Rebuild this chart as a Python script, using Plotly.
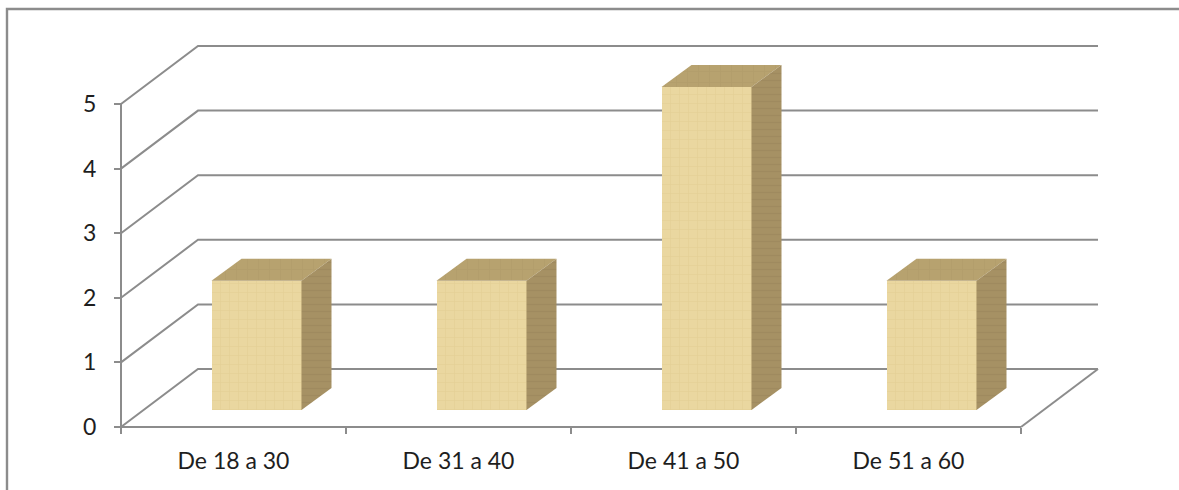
import plotly.graph_objects as go

WIDTH, HEIGHT = 1179, 490

categories = ["De 18 a 30", "De 31 a 40", "De 41 a 50", "De 51 a 60"]
values = [2, 2, 5, 2]
value_ticks = [0, 1, 2, 3, 4, 5]

# Pixel geometry of the oblique projection
X0_PX, Y0_PX = 121.0, 427.0
CAT_PX, UNIT_PX = 225.0, 64.6
FLOOR_DX, FLOOR_DY = 77.0, 58.0
BAR_DX, BAR_DY = 30.0, 22.0
BAR_W_PX = 90.0
BAR_SHIFT_DX, BAR_FLOOR_DY = 23.0, 17.0

GRID = "#8c8c8c"
FRONT, TOP, SIDE = "#ead7a0", "#b7a26f", "#a69164"

# Depth offsets expressed in data units
fdx, fdy = FLOOR_DX / CAT_PX, FLOOR_DY / UNIT_PX
bdx, bdy = BAR_DX / CAT_PX, BAR_DY / UNIT_PX
bar_w = BAR_W_PX / CAT_PX
base = BAR_FLOOR_DY / UNIT_PX
shift = BAR_SHIFT_DX / CAT_PX
n = len(categories)
ymax = value_ticks[-1]

x_range = [-X0_PX / CAT_PX, (WIDTH - X0_PX) / CAT_PX]
y_range = [-(HEIGHT - Y0_PX) / UNIT_PX, Y0_PX / UNIT_PX]

fig = go.Figure()


def line(xs, ys):
    fig.add_trace(go.Scatter(x=xs, y=ys, mode="lines", hoverinfo="skip",
                             line=dict(color=GRID, width=2), showlegend=False))


# Axis lines
line([0, 0], [0, ymax])
line([0, n], [0, 0])
# Back wall gridlines with their slanted returns to the value axis
for t in value_ticks:
    line([0, fdx, n + fdx], [t, t + fdy, t + fdy])
# Right edge of the floor
line([n, n + fdx], [0, fdy])

# The boxes sit on an overlaid subplot so they cover the gridlines
centers = [i + 0.5 + shift for i in range(n)]
fig.add_trace(go.Bar(
    x=centers, y=values, base=base, width=bar_w, showlegend=False,
    xaxis="x2", yaxis="y2",
    marker=dict(color=FRONT, line=dict(width=0),
                pattern=dict(shape="+", size=9, solidity=0.14,
                             fgcolor="#dcc68a", bgcolor=FRONT)),
))

# Top and side faces
for c, v in zip(centers, values):
    l, r = c - bar_w / 2, c + bar_w / 2
    lo, hi = base, base + v
    fig.add_trace(go.Scatter(
        x=[l, l + bdx, r + bdx, r, l], y=[hi, hi + bdy, hi + bdy, hi, hi],
        mode="lines", fill="toself", fillcolor=TOP, line=dict(width=0),
        fillpattern=dict(shape="+", size=11, solidity=0.15, fgcolor="#ad9866",
                         bgcolor=TOP),
        xaxis="x2", yaxis="y2", hoverinfo="skip", showlegend=False))
    fig.add_trace(go.Scatter(
        x=[r, r + bdx, r + bdx, r, r], y=[lo, lo + bdy, hi + bdy, hi, lo],
        mode="lines", fill="toself", fillcolor=SIDE, line=dict(width=0),
        fillpattern=dict(shape="-", size=7, solidity=0.18, fgcolor="#98845a",
                         bgcolor=SIDE),
        xaxis="x2", yaxis="y2", hoverinfo="skip", showlegend=False))

tick_font = dict(family="Lato, Carlito, sans-serif", color="#1e1e1e")

fig.update_layout(
    width=WIDTH, height=HEIGHT, autosize=False,
    margin=dict(l=0, r=0, t=0, b=0),
    paper_bgcolor="white", plot_bgcolor="rgba(0,0,0,0)",
    bargap=0, showlegend=False,
    xaxis=dict(
        range=x_range,
        anchor="free", position=(HEIGHT - Y0_PX) / HEIGHT,
        showgrid=False, zeroline=False, showline=False,
        tickmode="array", tickvals=[i + 0.5 for i in range(n)], ticktext=categories,
        ticks="", ticklabelstandoff=18, tickfont=dict(size=23, **tick_font),
        minor=dict(tickmode="array", tickvals=list(range(n + 1)), ticks="outside",
                   ticklen=6, tickwidth=2, tickcolor=GRID, showgrid=False),
    ),
    yaxis=dict(
        range=y_range,
        anchor="free", position=X0_PX / WIDTH,
        showgrid=False, zeroline=False, showline=False,
        tickmode="array", tickvals=value_ticks,
        ticks="outside", ticklen=7, tickwidth=2, tickcolor=GRID,
        ticklabelstandoff=13, tickfont=dict(size=23, **tick_font),
    ),
    xaxis2=dict(range=x_range, overlaying="x", visible=False),
    yaxis2=dict(range=y_range, overlaying="y", visible=False),
    # Chart frame, open at the right and bottom page edges
    shapes=[dict(type="rect", xref="paper", yref="paper",
                 x0=7 / WIDTH, x1=1.02, y0=-0.02, y1=1 - 9 / HEIGHT,
                 line=dict(color=GRID, width=2.4), layer="below")],
)

fig.write_html("out.html")
